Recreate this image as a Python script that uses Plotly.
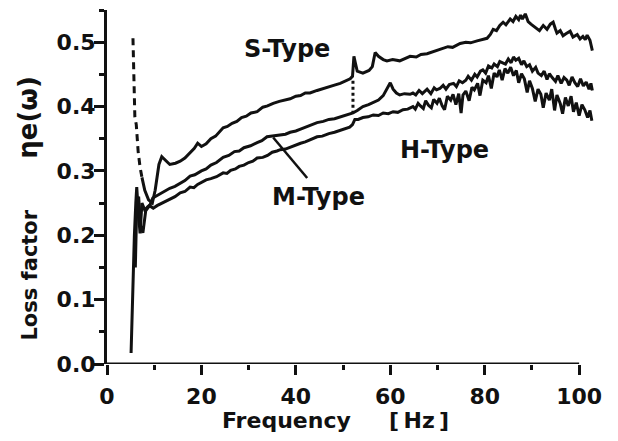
import plotly.graph_objects as go

# ---------------- data ----------------
s_dash_x = [5.5, 5.6, 5.8, 5.9, 6.2, 6.6, 7.0, 7.4]
s_dash_y = [0.506, 0.47, 0.42, 0.384, 0.372, 0.33, 0.306, 0.29]

s_x = [7.4, 8.0, 8.8, 9.6, 10.2, 11.0, 11.6, 12.2, 13.3, 14.5, 15.5, 16.5, 17.6, 18.5, 19.2, 20.0,
       21.0, 22.0, 23.0, 24.0, 24.6, 25.5, 26.5, 27.5, 28.5, 29.5, 30.5, 31.8, 33.0, 34.0, 35.2,
       36.5, 37.5, 38.8, 40.0, 41.0, 42.0, 43.0, 44.5, 46.0, 47.0, 48.0, 49.4, 50.5, 51.5, 52.0,
       52.3, 52.6, 53.0, 54.2, 55.5, 56.2, 56.8, 57.5, 58.5, 59.3, 60.5, 62.0, 63.0, 64.2, 65.5,
       66.5, 67.8, 69.0, 70.0, 71.2, 72.2, 73.2, 74.8, 76.0, 77.0, 78.4, 79.4, 80.5, 81.2, 81.8,
       82.5, 83.2, 83.9, 84.5, 85.4, 86.0, 86.6, 87.2, 87.6, 88.0, 88.6, 89.2, 89.8, 90.3, 91.0,
       91.6, 92.4, 93.2, 93.9, 94.5, 95.0, 95.3, 96.0, 96.6, 97.2, 98.1, 98.7, 99.6, 100.2, 100.8,
       101.3, 101.7, 102.3, 102.8]
s_y = [0.29, 0.27, 0.255, 0.25, 0.27, 0.31, 0.322, 0.318, 0.31, 0.312, 0.315, 0.32, 0.328, 0.335,
       0.343, 0.338, 0.342, 0.35, 0.354, 0.362, 0.367, 0.369, 0.374, 0.377, 0.383, 0.385, 0.39,
       0.392, 0.399, 0.401, 0.405, 0.408, 0.41, 0.412, 0.416, 0.417, 0.421, 0.421, 0.425, 0.428,
       0.43, 0.433, 0.436, 0.44, 0.443, 0.447, 0.478, 0.468, 0.455, 0.452, 0.456, 0.462, 0.484,
       0.478, 0.473, 0.471, 0.473, 0.471, 0.474, 0.478, 0.477, 0.481, 0.482, 0.485, 0.487, 0.49,
       0.493, 0.492, 0.498, 0.5, 0.499, 0.502, 0.504, 0.506, 0.512, 0.52, 0.518, 0.526, 0.531,
       0.527, 0.536, 0.532, 0.54, 0.535, 0.542, 0.536, 0.544, 0.532, 0.528, 0.525, 0.522, 0.518,
       0.526, 0.52, 0.528, 0.531, 0.52, 0.514, 0.518, 0.51, 0.513, 0.517, 0.508, 0.512, 0.505,
       0.509, 0.504, 0.511, 0.503, 0.487]

s_dot_x = [52.1, 52.1]
s_dot_y = [0.44, 0.39]

m_x = [5.1, 5.4, 5.8, 6.1, 6.3, 6.6, 7.0, 7.4, 8.0, 8.6, 9.1, 9.7, 10.4, 11.2, 12.2, 13.3, 14.4,
       15.5, 16.5, 17.6, 18.6, 20.0, 21.0, 22.0, 23.2, 24.6, 25.8, 27.0, 28.0, 29.0, 30.4, 31.8,
       32.8, 33.9, 35.2, 36.7, 37.8, 38.8, 40.0, 41.0, 42.5, 44.5, 45.8, 47.0, 48.2, 49.4, 50.5,
       51.4, 52.1, 53.0, 54.2, 55.4, 56.4, 57.5, 58.5, 59.5, 60.0, 60.6, 61.3, 62.0, 63.0, 64.2,
       64.8, 65.4, 66.1, 66.8, 67.3, 67.8, 68.6, 69.3, 69.8, 70.5, 71.2, 71.8, 72.5, 73.4, 74.0,
       74.6, 75.3, 76.0, 76.5, 77.2, 77.9, 78.4, 79.1, 79.6, 80.2, 80.8, 81.5, 82.0, 82.7, 83.2,
       83.8, 84.4, 85.0, 85.6, 86.1, 86.6, 87.2, 87.8, 88.3, 88.9, 89.5, 90.1, 90.8, 91.3, 92.0,
       92.6, 93.2, 93.7, 94.3, 95.0, 95.5, 96.2, 96.8, 97.4, 97.9, 98.5, 99.1, 99.7, 100.3, 100.9,
       101.5, 102.1, 102.5, 102.8]
m_y = [0.017, 0.1, 0.2, 0.25, 0.275, 0.24, 0.203, 0.25, 0.239, 0.244, 0.247, 0.258, 0.261, 0.265,
       0.268, 0.273, 0.276, 0.281, 0.285, 0.292, 0.294, 0.3, 0.303, 0.309, 0.313, 0.321, 0.324,
       0.33, 0.331, 0.336, 0.339, 0.344, 0.347, 0.353, 0.354, 0.356, 0.357, 0.36, 0.362, 0.365,
       0.369, 0.375, 0.377, 0.38, 0.381, 0.384, 0.386, 0.388, 0.39, 0.394, 0.4, 0.403, 0.406,
       0.41, 0.417, 0.43, 0.437, 0.427, 0.421, 0.418, 0.42, 0.419,
       0.421, 0.418, 0.425, 0.42, 0.423, 0.427, 0.42, 0.429, 0.426, 0.428, 0.433, 0.427, 0.434,
       0.436, 0.431, 0.44, 0.437, 0.441, 0.447, 0.441, 0.45, 0.446, 0.455, 0.457, 0.452, 0.463,
       0.46, 0.466, 0.462, 0.47, 0.468, 0.466, 0.474, 0.468, 0.477, 0.472, 0.475, 0.465, 0.471,
       0.462, 0.465, 0.455, 0.461, 0.452, 0.448, 0.455, 0.442, 0.451, 0.445, 0.439, 0.448, 0.436,
       0.445, 0.441, 0.433, 0.446, 0.437, 0.431, 0.443, 0.432, 0.438, 0.427, 0.436, 0.425]

h_x = [6.0, 6.3, 6.7, 7.1, 7.6, 8.2, 9.0, 9.8, 10.6, 11.4, 12.2, 13.3, 14.4, 15.5, 16.5, 17.6,
       18.4, 19.2, 20.0, 21.0, 22.0, 23.2, 24.6, 25.4, 26.2, 27.2, 28.0, 29.0, 30.0, 30.9, 31.8,
       33.0, 34.0, 35.0, 36.0, 36.7, 37.8, 38.8, 40.0, 41.0, 42.0, 43.0, 44.5, 45.6, 47.0, 48.2,
       49.4, 50.5, 51.4, 52.0, 52.5, 53.2, 54.2, 55.3, 56.4, 57.5, 58.5, 59.6, 60.6, 61.6, 62.7,
       63.7, 64.8, 65.3, 65.9, 66.4, 67.0, 67.5, 68.1, 68.7, 69.2, 69.9, 70.4, 71.0, 71.5, 72.1,
       72.8, 73.3, 73.9, 74.5, 75.0, 75.4, 76.0, 76.7, 77.3, 77.8, 78.5, 79.0, 79.6, 80.3, 80.8,
       81.4, 82.0, 82.6, 83.1, 83.7, 84.3, 84.9, 85.5, 86.1, 86.7, 87.2, 87.8, 88.4, 89.0, 89.5,
       90.1, 90.7, 91.3, 91.9, 92.4, 93.0, 93.7, 94.2, 94.8, 95.3, 96.0, 96.5, 97.1, 97.7, 98.3,
       98.8, 99.4, 100.0, 100.6, 101.2, 101.8, 102.3, 102.7]
h_y = [0.15, 0.245, 0.26, 0.215, 0.204, 0.238, 0.246, 0.242, 0.246, 0.249, 0.252, 0.256, 0.26,
       0.266, 0.268, 0.275, 0.274, 0.279, 0.282, 0.286, 0.288, 0.291, 0.297, 0.296, 0.301, 0.303,
       0.307, 0.309, 0.313, 0.315, 0.32, 0.321, 0.324, 0.329, 0.331, 0.333, 0.334, 0.337, 0.34,
       0.343, 0.345, 0.348, 0.353, 0.354, 0.358, 0.36, 0.363, 0.365, 0.368, 0.372, 0.38, 0.38,
       0.383, 0.384, 0.387, 0.386, 0.39, 0.389, 0.392, 0.391, 0.395, 0.396,
       0.4, 0.396, 0.405, 0.401, 0.397, 0.409, 0.402, 0.398, 0.411, 0.405, 0.413, 0.401, 0.395,
       0.416, 0.41, 0.419, 0.403, 0.42, 0.39, 0.418, 0.424, 0.409, 0.43, 0.426, 0.436, 0.417,
       0.441, 0.437, 0.448, 0.428, 0.452, 0.446, 0.457, 0.441, 0.459, 0.452, 0.461, 0.448, 0.456,
       0.437, 0.451, 0.443, 0.422, 0.44, 0.428, 0.408, 0.427, 0.419, 0.398, 0.421, 0.41, 0.427,
       0.394, 0.418, 0.405, 0.389, 0.414, 0.401, 0.416, 0.392, 0.406, 0.386, 0.403, 0.395, 0.383,
       0.394, 0.378]

x_major = [0, 20, 40, 60, 80, 100]
x_minor = [10, 30, 50, 70, 90]
y_major = [0.0, 0.1, 0.2, 0.3, 0.4, 0.5]
y_minor = [0.05, 0.15, 0.25, 0.35, 0.45, 0.55]

labels = ["S-Type", "M-Type", "H-Type"]
label_x = [38.1, 44.7, 71.4]
label_y = [0.49, 0.259, 0.332]
pointer_x = [35.2, 42.4]
pointer_y = [0.352, 0.289]

# ---------------- figure ----------------
INK = "#111111"
FONT = "DejaVu Sans"
LW = 3

fig = go.Figure()
fig.add_trace(go.Scatter(x=s_dash_x, y=s_dash_y, mode="lines",
                         line=dict(color=INK, width=LW, dash="7px,5px"), showlegend=False))
fig.add_trace(go.Scatter(x=s_x, y=s_y, mode="lines", line=dict(color=INK, width=LW), showlegend=False))
fig.add_trace(go.Scatter(x=s_dot_x, y=s_dot_y, mode="lines",
                         line=dict(color=INK, width=LW, dash="3px,3px"), showlegend=False))
fig.add_trace(go.Scatter(x=m_x, y=m_y, mode="lines", line=dict(color=INK, width=LW), showlegend=False))
fig.add_trace(go.Scatter(x=h_x, y=h_y, mode="lines", line=dict(color=INK, width=LW), showlegend=False))
fig.add_trace(go.Scatter(x=pointer_x, y=pointer_y, mode="lines",
                         line=dict(color=INK, width=2.5), showlegend=False))

for t, lx, ly in zip(labels, label_x, label_y):
    fig.add_annotation(x=lx, y=ly, xref="x", yref="y", text=t, showarrow=False,
                       xanchor="center", yanchor="middle",
                       font=dict(family=FONT, size=24, color=INK, weight="bold"))

# x-axis line only from 0 to 100
fig.add_shape(type="line", xref="x", yref="y", x0=x_major[0], x1=x_major[-1], y0=0, y1=0,
              line=dict(color=INK, width=3))

fig.add_annotation(xref="paper", yref="paper", x=0.466, y=-0.161, xanchor="center", yanchor="middle",
                   text="Frequency\u00a0\u00a0\u00a0\u00a0\u00a0[\u2009Hz\u2009]", showarrow=False,
                   font=dict(family=FONT, size=22, color=INK, weight="bold"))
fig.add_annotation(xref="paper", yref="paper", x=-0.161, y=0.439, xanchor="center", yanchor="middle",
                   textangle=-90,
                   text="Loss factor\u00a0\u00a0\u00a0\u00a0\u00a0\u00a0\u00a0"
                        "<span style='font-size:26px'>\u03b7e(\u03c9)</span>",
                   showarrow=False,
                   font=dict(family=FONT, size=21, color=INK, weight="bold"))

tickfont = dict(family=FONT, size=22, color=INK, weight="bold")
fig.update_xaxes(range=[0, 104], tickvals=x_major, ticktext=[str(v) for v in x_major],
                 ticks="outside", ticklen=10, tickwidth=2.5, tickcolor=INK,
                 minor=dict(tickvals=x_minor, ticks="outside", ticklen=5, tickwidth=2.5, tickcolor=INK),
                 showline=False, showgrid=False, zeroline=False, tickfont=tickfont,
                 ticklabelstandoff=3)
fig.update_yaxes(range=[0, 0.55], tickvals=y_major, ticktext=[f"{v:.1f}" for v in y_major],
                 ticks="outside", ticklen=10, tickwidth=2.5, tickcolor=INK,
                 minor=dict(tickvals=y_minor, ticks="outside", ticklen=5, tickwidth=2.5, tickcolor=INK),
                 showline=True, linecolor=INK, linewidth=3, showgrid=False, zeroline=False,
                 tickfont=tickfont, ticklabelstandoff=-6)
# the page is shown with an 8px body margin, so the figure is sized/offset to compensate
fig.update_layout(width=610, height=433, margin=dict(l=99, r=20, t=2, b=77, autoexpand=False),
                  plot_bgcolor="white", paper_bgcolor="white")

fig.write_html("out.html")
